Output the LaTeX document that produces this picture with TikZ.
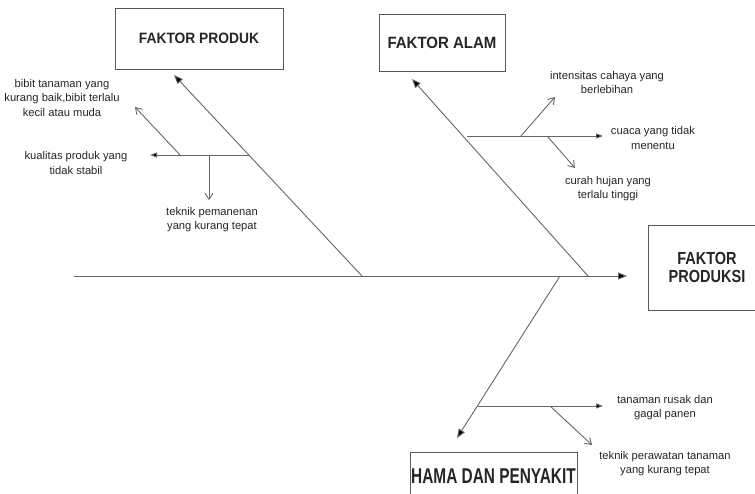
\documentclass[tikz,border=0pt]{standalone}
\usepackage{fontspec}
\setmainfont{Liberation Sans}
\newfontfamily\produkfont{Liberation Sans Bold}[FakeStretch=0.92]
\newfontfamily\alamfont{Liberation Sans Bold}[FakeStretch=0.92]
\newfontfamily\produksifont{Liberation Sans Bold}[FakeStretch=0.83]
\newfontfamily\hamafont{Liberation Sans Bold}[FakeStretch=0.72]
\usetikzlibrary{arrows.meta, positioning}
\tikzset{
  bone/.style={draw=black!60, line width=0.9pt}, % lines of the fish bone
  head/.style={-{Triangle[length=9pt,width=7pt]}}, % big filled tip
  small/.style={-{Triangle[length=7pt,width=5pt]}}, % small filled tip
  open/.style={-{Straight Barb[length=6pt,width=8pt]}}, % open tip
}

\begin{document}
\begin{tikzpicture}[x=1pt,y=-1pt,
    box/.style={draw=black!65, line width=0.9pt, rectangle, align=center,
      inner xsep=0.5pt, text=black!85},
    note/.style={align=center, inner sep=0pt, text=black!85,
      font=\fontsize{11.2}{14.5}\selectfont}]
    \clip (0,0) rectangle (755,493);

    % the four boxes
    \node[box, minimum width=168, minimum height=61,
      font=\produkfont\fontsize{15}{18}\selectfont] (produk) at (199,38.5) {FAKTOR PRODUK};
    \node[box, minimum width=126, minimum height=57,
      font=\alamfont\fontsize{16.3}{19}\selectfont] (alam) at (442,42.5) {FAKTOR ALAM};
    \node[box, minimum width=118, minimum height=85,
      font=\produksifont\fontsize{17.5}{18.6}\selectfont] (produksi) at (707,267.5) {FAKTOR\\PRODUKSI};
    \node[box, anchor=north, minimum width=167, text height=16pt, text depth=30pt,
      inner ysep=15pt, font=\hamafont\fontsize{21.4}{24}\selectfont] (hama) at (493.5,452) {HAMA DAN PENYAKIT};

    % causes
    \node[note] (bibit) at (62,97.5) {bibit tanaman yang\\kurang baik,bibit terlalu\\kecil atau muda};
    \node[note] (kualitas) at (76,163) {kualitas produk yang\\tidak stabil};
    \node[note] (panen) at (212,219.5) {teknik pemanenan\\yang kurang tepat};
    \node[note] (cahaya) at (607,82.5) {intensitas cahaya yang\\berlebihan};
    \node[note] (cuaca) at (653,138) {cuaca yang tidak\\menentu};
    \node[note] (hujan) at (608,188.5) {curah hujan yang\\terlalu tinggi};
    \node[note] (rusak) at (665,407.5) {tanaman rusak dan\\gagal panen};
    \node[note] (rawat) at (665,463.5) {teknik perawatan tanaman\\yang kurang tepat};

    % points of the bones
    \coordinate (tail) at (74,276);
    \coordinate (spine) at (627,276);
    \coordinate (p0) at (362,276);
    \coordinate (p1) at (174,75);
    \coordinate (a0) at (588,276);
    \coordinate (a1) at (412,79);
    \coordinate (h0) at (560,276);
    \coordinate (h1) at (457,438);

    \coordinate (pk0) at (250,155);
    \coordinate (pk1) at (150,155);
    \coordinate (pb0) at (181,156);
    \coordinate (pb1) at (135,107);
    \coordinate (pt0) at (209,155);
    \coordinate (pt1) at (209,200);

    \coordinate (ac0) at (467,136);
    \coordinate (ac1) at (603,136);
    \coordinate (ai0) at (520,137);
    \coordinate (ai1) at (555,97);
    \coordinate (ah0) at (548,137);
    \coordinate (ah1) at (575,168);

    \coordinate (hr0) at (478,406);
    \coordinate (hr1) at (603,406);
    \coordinate (hp0) at (550,406);
    \coordinate (hp1) at (592,445);

    \draw[bone]
    (tail) edge[head] (spine)
    (p0) edge[head] (p1)
    (a0) edge[head] (a1)
    (h0) edge[head] (h1)

    (pk0) edge[small] (pk1)
    (pb0) edge[open] (pb1)
    (pt0) edge[open] (pt1)

    (ac0) edge[small] (ac1)
    (ai0) edge[open] (ai1)
    (ah0) edge[open] (ah1)

    (hr0) edge[small] (hr1)
    (hp0) edge[open] (hp1)
    ;

  \end{tikzpicture}
\end{document}
